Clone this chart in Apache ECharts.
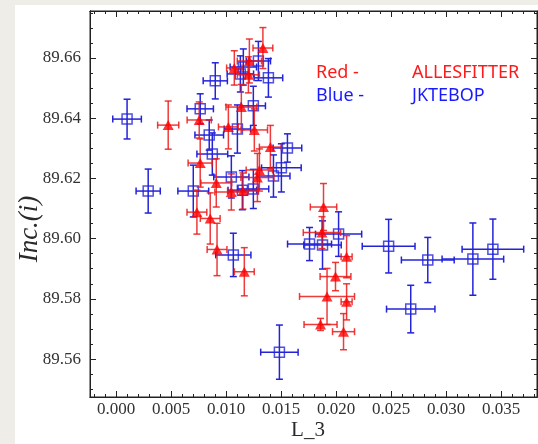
<!DOCTYPE html>
<html>
<head>
<meta charset="utf-8">
<script src="https://cdn.jsdelivr.net/npm/echarts@6/dist/echarts.min.js"></script>
<style>
  html, body { margin: 0; padding: 0; background: #eeede8; }
  #chart { width: 538px; height: 444px; }
</style>
</head>
<body>
<div id="chart"></div>
<script>
  const xTicks = [0, 0.005, 0.01, 0.015, 0.02, 0.025, 0.03, 0.035]
  const yTicks = [89.56, 89.58, 89.6, 89.62, 89.64, 89.66]

  // ALLESFITTER (red)
  const redX = [0.00474, 0.00756, 0.00765, 0.00911, 0.01021, 0.01075, 0.01139, 0.01212, 0.01203, 0.01257,
    0.01335, 0.01403, 0.01303, 0.01285, 0.01048, 0.01154, 0.00735, 0.00856, 0.00918, 0.01166,
    0.01886, 0.01872, 0.02096, 0.01995, 0.01918, 0.02096, 0.01859, 0.02068]
  const redY = [89.6377, 89.6394, 89.6251, 89.6185, 89.6371, 89.6567, 89.6437, 89.659, 89.6544, 89.6361,
    89.6633, 89.6304, 89.6228, 89.6203, 89.6155, 89.6158, 89.6088, 89.6067, 89.5964, 89.589,
    89.6105, 89.602, 89.594, 89.5874, 89.5808, 89.579, 89.5715, 89.5691]
  const redXErr = [0.00096, 0.0011, 0.0011, 0.0014, 0.0009, 0.0007, 0.0014, 0.0011, 0.001, 0.0012,
    0.0009, 0.001, 0.0012, 0.0015, 0.0015, 0.0014, 0.0009, 0.0009, 0.0009, 0.0009,
    0.0012, 0.0017, 0.0005, 0.0014, 0.0025, 0.0005, 0.0015, 0.001]
  const redYErr = [0.008, 0.006, 0.008, 0.008, 0.0073, 0.0057, 0.0075, 0.0073, 0.006, 0.007,
    0.0068, 0.0072, 0.007, 0.008, 0.006, 0.006, 0.0073, 0.0085, 0.0087, 0.008,
    0.0078, 0.0053, 0.007, 0.0047, 0.0093, 0.006, 0.002, 0.006]

  // JKTEBOP (blue)
  const blueX = [0.001, 0.00292, 0.00902, 0.00765, 0.00847, 0.00875, 0.01103, 0.00702, 0.01066, 0.01485,
    0.01759, 0.01877, 0.02023, 0.02478, 0.02834, 0.02679, 0.03244, 0.03426, 0.0113, 0.01157,
    0.01294, 0.01385, 0.01248, 0.01048, 0.01148, 0.01248, 0.01431, 0.01503, 0.01558]
  const blueY = [89.6397, 89.6158, 89.6524, 89.6431, 89.6344, 89.6281, 89.6364, 89.6158, 89.5946, 89.5623,
    89.5982, 89.5979, 89.6015, 89.5975, 89.5929, 89.5766, 89.5932, 89.5965, 89.6547, 89.657,
    89.659, 89.6534, 89.6441, 89.6205, 89.6161, 89.6165, 89.6208, 89.6235, 89.6301]
  const blueXErr = [0.0013, 0.0011, 0.0011, 0.0012, 0.0013, 0.0014, 0.0012, 0.0014, 0.0016, 0.0017,
    0.002, 0.0017, 0.0021, 0.0024, 0.0024, 0.0022, 0.0028, 0.0028, 0.0012, 0.0012,
    0.0011, 0.0013, 0.0011, 0.0016, 0.0013, 0.0014, 0.0015, 0.0018, 0.0013]
  const blueYErr = [0.0066, 0.0073, 0.006, 0.005, 0.005, 0.007, 0.008, 0.0086, 0.0072, 0.009,
    0.0055, 0.008, 0.0074, 0.0089, 0.0075, 0.0079, 0.012, 0.01, 0.006, 0.006,
    0.0065, 0.0064, 0.0065, 0.007, 0.0065, 0.0065, 0.007, 0.008, 0.0047]

  const X_MIN = -0.00237
  const X_MAX = 0.03827
  const Y_MIN = 89.5474
  const Y_MAX = 89.6756

  const minorOf = (step, min, max) => {
    const out = []
    const start = Math.ceil(min / step)
    const end = Math.floor(max / step)
    for (let i = start; i <= end; i++) out.push(+(i * step).toFixed(6))
    return out
  }
  const xMinor = minorOf(0.001, X_MIN, X_MAX)
  const yMinor = minorOf(0.005, Y_MIN, Y_MAX)

  const toRows = (xs, ys, xe, ye) => xs.map((x, i) => [x, ys[i], xe[i], ye[i]])
  const redRows = toRows(redX, redY, redXErr, redYErr)
  const blueRows = toRows(blueX, blueY, blueXErr, blueYErr)

  const errorBars = (color) => (params, api) => {
    const x = api.value(0)
    const y = api.value(1)
    const xe = api.value(2)
    const ye = api.value(3)
    const l = api.coord([x - xe, y])
    const r = api.coord([x + xe, y])
    const t = api.coord([x, y + ye])
    const b = api.coord([x, y - ye])
    const cap = 3.5
    const style = { stroke: color, lineWidth: 1.5 }
    const line = (x1, y1, x2, y2) => ({ type: 'line', shape: { x1, y1, x2, y2 }, style })
    return {
      type: 'group',
      children: [
        line(l[0], l[1], r[0], r[1]),
        line(t[0], t[1], b[0], b[1]),
        line(l[0], l[1] - cap, l[0], l[1] + cap),
        line(r[0], r[1] - cap, r[0], r[1] + cap),
        line(t[0] - cap, t[1], t[0] + cap, t[1]),
        line(b[0] - cap, b[1], b[0] + cap, b[1])
      ]
    }
  }

  const TICK_FONT = '17px "Liberation Serif"'

  const xAxisBase = (position, values, len) => ({
    type: 'value',
    position,
    min: X_MIN,
    max: X_MAX,
    splitLine: { show: false },
    axisLine: { show: true, onZero: false, lineStyle: { color: '#222', width: 1 } },
    axisTick: { show: true, inside: true, length: len, customValues: values, lineStyle: { color: '#222' } },
    axisLabel: { show: false }
  })
  const yAxisBase = (position, values, len) => ({
    type: 'value',
    position,
    min: Y_MIN,
    max: Y_MAX,
    splitLine: { show: false },
    axisLine: { show: true, onZero: false, lineStyle: { color: '#222', width: 1 } },
    axisTick: { show: true, inside: true, length: len, customValues: values, lineStyle: { color: '#222' } },
    axisLabel: { show: false }
  })

  const chart = echarts.init(document.getElementById('chart'))

  chart.setOption({
    backgroundColor: '#eeede8',
    animation: false,
    grid: { left: 90, right: 1, top: 11, bottom: 47, show: true, backgroundColor: '#fff', borderColor: '#222', borderWidth: 1 },
    xAxis: [
      xAxisBase('bottom', xTicks, 6),
      xAxisBase('bottom', xMinor, 3),
      xAxisBase('top', xTicks, 6),
      xAxisBase('top', xMinor, 3)
    ],
    yAxis: [
      yAxisBase('left', yTicks, 6),
      yAxisBase('left', yMinor, 3),
      yAxisBase('right', yTicks, 6),
      yAxisBase('right', yMinor, 3)
    ],
    series: [
      {
        type: 'custom',
        name: 'JKTEBOP err',
        renderItem: errorBars('#2323d8'),
        data: blueRows,
        encode: { x: 0, y: 1 },
        z: 2
      },
      {
        type: 'scatter',
        name: 'JKTEBOP',
        data: blueRows.map((r) => [r[0], r[1]]),
        symbol: 'rect',
        symbolSize: 10,
        itemStyle: { color: 'rgba(0,0,0,0)', borderColor: '#2323d8', borderWidth: 1.5 },
        z: 3
      },
      {
        type: 'custom',
        name: 'ALLESFITTER err',
        renderItem: errorBars('rgba(235,25,25,0.85)'),
        data: redRows,
        encode: { x: 0, y: 1 },
        z: 4
      },
      {
        type: 'scatter',
        name: 'ALLESFITTER',
        data: redRows.map((r) => [r[0], r[1]]),
        symbol: 'triangle',
        symbolSize: [11, 10],
        itemStyle: { color: '#ff0000' },
        z: 5
      }
    ]
  })

  // tick labels placed through the axis scales
  const xLabels = xTicks.map((v) => ({
    type: 'text',
    x: chart.convertToPixel({ xAxisIndex: 0 }, v),
    y: 401,
    style: { text: v.toFixed(3), fill: '#333', font: TICK_FONT, textAlign: 'center', textVerticalAlign: 'top' }
  }))
  const yLabels = yTicks.map((v) => ({
    type: 'text',
    x: 81,
    y: chart.convertToPixel({ yAxisIndex: 0 }, v),
    style: { text: v.toFixed(2), fill: '#333', font: TICK_FONT, textAlign: 'right', textVerticalAlign: 'middle' }
  }))

  chart.setOption({
    graphic: [
      { type: 'rect', z: -10, left: 15, top: 5, shape: { width: 523, height: 439 }, style: { fill: '#fff' } },
      { type: 'text', left: 316, top: 64, style: { text: 'Red -', fill: '#ff1a1a', font: '18px "Noto Sans"' } },
      { type: 'text', left: 412, top: 64, style: { text: 'ALLESFITTER', fill: '#ff1a1a', font: '18px "Noto Sans"' } },
      { type: 'text', left: 316, top: 87, style: { text: 'Blue -', fill: '#1a1aff', font: '18px "Noto Sans"' } },
      { type: 'text', left: 412, top: 87, style: { text: 'JKTEBOP', fill: '#1a1aff', font: '18px "Noto Sans"' } },
      {
        type: 'text', x: 30, y: 229, rotation: Math.PI / 2,
        style: { text: 'Inc.(i)', fill: '#2a2a2a', font: 'italic 27px "Liberation Serif"', textAlign: 'center', textVerticalAlign: 'middle' }
      },
      {
        type: 'text', x: 308, y: 430,
        style: { text: 'L_3', fill: '#2a2a2a', font: '21px "Liberation Serif"', textAlign: 'center', textVerticalAlign: 'middle' }
      },
      ...xLabels,
      ...yLabels
    ]
  })
</script>
</body>
</html>
